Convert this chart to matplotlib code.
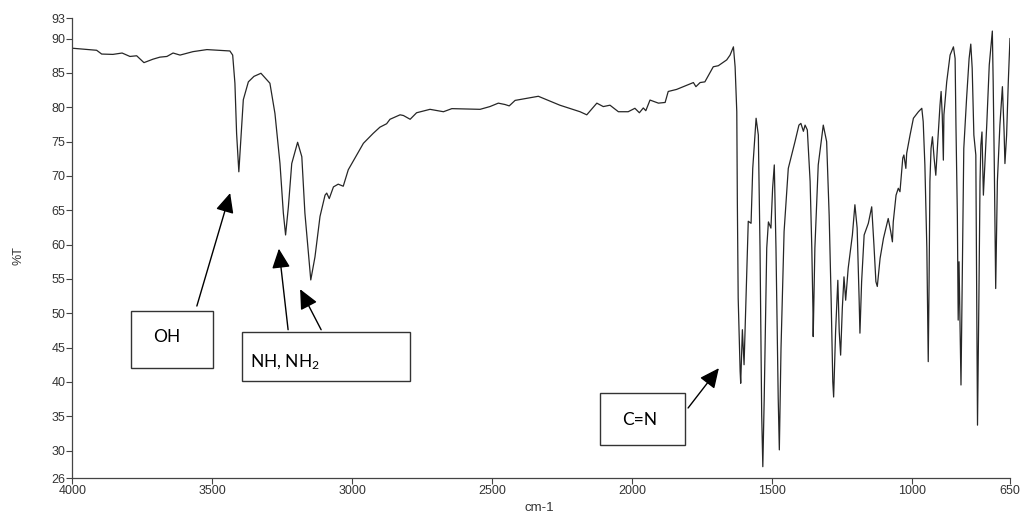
import matplotlib
matplotlib.use("Agg")
import matplotlib.pyplot as plt
from matplotlib.patches import Rectangle

plt.rcParams["mathtext.fontset"] = "custom"
plt.rcParams["mathtext.rm"] = "Lato"
plt.rcParams["mathtext.it"] = "Lato:italic"
plt.rcParams["mathtext.bf"] = "Lato:bold"

# IR spectrum: wavenumber (cm-1) and transmittance (%T)
wavenumber = [
    4000, 3913, 3895, 3855, 3822, 3794, 3770, 3744, 3712, 3687, 3662, 3640, 3615,
    3569, 3519, 3437, 3427, 3419, 3413, 3405, 3398, 3389, 3371, 3351, 3326, 3294,
    3276, 3258, 3246, 3238, 3228, 3216, 3195, 3180, 3169, 3148, 3133, 3115, 3097,
    3091, 3082, 3067, 3050, 3032, 3014, 2984, 2960, 2925, 2901, 2877, 2865, 2829,
    2817, 2793, 2770, 2722, 2674, 2644, 2543, 2508, 2478, 2454, 2439, 2418, 2377,
    2335, 2317, 2258, 2216, 2186, 2162, 2126, 2103, 2079, 2049, 2014, 1990, 1974,
    1960, 1951, 1936, 1906, 1882, 1871, 1841, 1781, 1772, 1757, 1740, 1710, 1692,
    1662, 1650, 1638, 1632, 1626, 1624, 1621, 1614, 1612, 1606, 1600, 1593, 1585,
    1575, 1569, 1557, 1549, 1543, 1537, 1533, 1528, 1519, 1513, 1504, 1498, 1492,
    1486, 1478, 1474, 1468, 1457, 1442, 1430, 1418, 1404, 1397, 1388, 1382, 1374,
    1364, 1358, 1354, 1353, 1347, 1335, 1317, 1305, 1296, 1289, 1283, 1280, 1273,
    1265, 1260, 1255, 1249, 1243, 1237, 1228, 1213, 1204, 1196, 1189, 1186, 1180,
    1171, 1156, 1144, 1136, 1129, 1124, 1114, 1102, 1085, 1076, 1070, 1067, 1057,
    1049, 1043, 1033, 1029, 1022, 1019, 1007, 995, 977, 965, 960, 954, 947, 944,
    942, 939, 936, 932, 927, 921, 915, 908, 900, 896, 892, 888, 886, 876, 864,
    852, 846, 843, 838, 835, 832, 825, 819, 815, 805, 796, 790, 785, 779, 772,
    769, 766, 761, 757, 754, 750, 745, 733, 724, 713, 710, 706, 701, 695, 686,
    677, 671, 668, 662, 656, 650,
]
transmittance = [
    88.6, 88.3, 87.75, 87.7, 87.9, 87.4, 87.5, 86.5, 87.0, 87.3, 87.4, 87.9, 87.6,
    88.1, 88.4, 88.2, 87.6, 83.5, 76.2, 70.6, 75.2, 81.1, 83.7, 84.5, 84.95, 83.5,
    79.1, 71.8, 64.6, 61.4, 65.5, 71.8, 74.9, 72.8, 64.6, 54.85, 58.2, 64.1, 67.2,
    67.5, 66.7, 68.4, 68.8, 68.5, 70.9, 73.05, 74.75, 76.2, 77.1, 77.6, 78.25, 78.9,
    78.8, 78.25, 79.2, 79.7, 79.35, 79.8, 79.7, 80.1, 80.6, 80.4, 80.2, 81.0, 81.3,
    81.6, 81.3, 80.3, 79.75, 79.35, 78.9, 80.6, 80.1, 80.3, 79.35, 79.35, 79.85, 79.2,
    79.9, 79.5, 81.05, 80.6, 80.7, 82.3, 82.6, 83.6, 83.0, 83.6, 83.7, 85.9, 86.05,
    86.9, 87.6, 88.8, 85.9, 79.35, 66.25, 52.2, 41.5, 39.8, 47.6, 42.5, 52.2, 63.4,
    63.1, 71.1, 78.4, 75.95, 59.5, 35.2, 27.65, 37.6, 59.5, 63.3, 62.4, 68.2, 71.6,
    59.5, 37.6, 30.1, 44.9, 61.9, 71.1, 73.05, 75.0, 77.4, 77.65, 76.5, 77.4, 76.7,
    69.2, 59.5, 50.7, 46.6, 59.5, 71.6, 77.4, 75.0, 64.3, 52.2, 40.0, 37.8, 47.3,
    54.8, 47.3, 43.9, 50.7, 55.3, 51.9, 56.55, 61.4, 65.8, 62.4, 52.2, 47.1, 54.6,
    61.4, 63.1, 65.5, 59.95, 54.6, 53.9, 58.0, 60.9, 63.8, 61.9, 60.4, 63.3, 67.2,
    68.2, 67.7, 72.6, 73.05, 71.1, 73.3, 75.95, 78.4, 79.35, 79.85, 77.9, 71.6, 59.5, 49.75,
    42.95, 54.6, 69.2, 74.0, 75.7, 72.6, 70.1, 75.0, 80.3, 82.3, 78.9, 72.3, 78.9, 83.7, 87.6,
    88.8, 87.1, 77.4, 64.3, 49.0, 57.5, 39.55, 59.5, 74.0, 81.3, 87.1, 89.2, 85.7, 75.95, 73.05,
    53.6, 33.7, 52.2, 69.2, 74.5, 76.4, 67.2, 77.4, 86.15, 91.1, 83.7, 71.6, 53.6, 69.2, 77.4,
    83.0, 76.4, 71.8, 75.95, 83.7, 90.0,
]

y_ticks = [26, 30, 35, 40, 45, 50, 55, 60, 65, 70, 75, 80, 85, 90, 93]
x_ticks = [4000, 3500, 3000, 2500, 2000, 1500, 1000, 650]

band_labels = ["OH", r"NH, NH$_\mathrm{2}$", "C=N"]

fig = plt.figure(figsize=(10.24, 5.16), dpi=100)
ax = fig.add_axes([0.0706, 0.0736, 0.9157, 0.8915])

ax.plot(wavenumber, transmittance, color="#262626", lw=0.9)

ax.set_xlim(4000, 650)
ax.set_ylim(26, 93)
ax.set_xticks(x_ticks)
ax.set_yticks(y_ticks)
tick_font = dict(family="Liberation Sans", size=9, color="#333333")
ax.set_xticklabels([str(v) for v in x_ticks], **tick_font)
ax.set_yticklabels([str(v) for v in y_ticks], **tick_font)
ax.tick_params(direction="out", length=4, width=0.8, color="#444444", pad=1)
for side in ("top", "right"):
    ax.spines[side].set_visible(False)
for side in ("left", "bottom"):
    ax.spines[side].set_color("#444444")
    ax.spines[side].set_linewidth(0.9)

fig.text(0.018, 0.505, "%T", rotation=90, ha="center", va="center",
         family="Liberation Sans", size=9, color="#333333")
fig.text(0.527, 0.016, "cm-1", ha="center", va="center",
         family="Liberation Sans", size=9.5, color="#333333")

label_font = dict(family=["Lato", "DejaVu Sans"], size=12.5, color="black")

# Label boxes in data coordinates: (left, bottom, right, top)
boxes = [
    (3790, 42.0, 3497, 50.3),
    (3394, 40.1, 2793, 47.3),
    (2115, 30.8, 1811, 38.4),
]
for x0, y0, x1, y1 in boxes:
    ax.add_patch(Rectangle((x0, y0), x1 - x0, y1 - y0, fill=False,
                           edgecolor="#333333", lw=1.0, zorder=3))

ax.text(3664, 46.6, band_labels[0], ha="center", va="center", **label_font)
ax.text(3366, 42.9, band_labels[1], ha="left", va="center", **label_font)
ax.text(1972, 34.4, band_labels[2], ha="center", va="center", **label_font)

# Arrows from the boxes to the bands: (tail, tip)
arrows = [
    ((3555, 51.05), (3436, 67.5)),
    ((3229, 47.6), (3262, 59.4)),
    ((3111, 47.6), (3186, 53.5)),
    ((1800, 36.2), (1690, 42.0)),
]
for tail, tip in arrows:
    ax.annotate("", xy=tip, xytext=tail,
                arrowprops=dict(arrowstyle="-|>,head_length=0.6,head_width=0.28",
                                color="black", lw=1.0, mutation_scale=20,
                                shrinkA=0, shrinkB=0))

fig.savefig("out.png", dpi=100)
